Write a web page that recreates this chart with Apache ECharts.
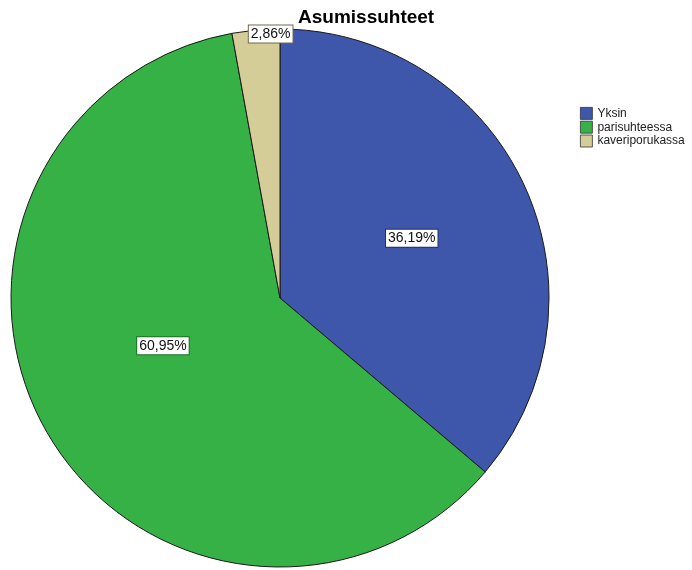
<!DOCTYPE html>
<html>
<head>
<meta charset="utf-8">
<script src="https://cdn.jsdelivr.net/npm/echarts@6/dist/echarts.min.js"></script>
<style>html,body{margin:0;padding:0;background:#fff}#c{width:692px;height:570px}</style>
</head>
<body>
<div id="c"></div>
<script>
var categories = ['Yksin', 'parisuhteessa', 'kaveriporukassa'];
var values = [36.19, 60.95, 2.86];
var labels = ['36,19%', '60,95%', '2,86%'];
var colors = ['#3f57ab', '#35b145', '#d4cd98'];
var labelBorders = ['#1f2f6e', '#1d6e28', '#6e6a4a'];
var labelOffsets = [[7, -2], [2, -21], [3, -127]];

var chart = echarts.init(document.getElementById('c'));
var data = categories.map(function (n, i) {
  return {
    name: n,
    value: values[i],
    itemStyle: { color: colors[i] },
    label: {
      formatter: labels[i],
      borderColor: labelBorders[i],
      offset: labelOffsets[i]
    }
  };
});
chart.setOption({
  animation: false,
  title: {
    text: 'Asumissuhteet',
    left: 293,
    top: 3,
    textStyle: { fontFamily: 'Arial, "Liberation Sans"', fontSize: 19, fontWeight: 'bold', color: '#000' }
  },
  legend: {
    orient: 'vertical',
    left: 575,
    top: 102,
    itemWidth: 12,
    itemHeight: 12,
    itemGap: 1,
    icon: 'rect',
    data: categories,
    itemStyle: { borderColor: '#333', borderWidth: 0.8 },
    textStyle: { fontFamily: 'Arial, "Liberation Sans"', fontSize: 12, color: '#222' }
  },
  series: [{
    type: 'pie',
    center: [280, 298],
    radius: 269,
    startAngle: 90,
    clockwise: true,
    silent: true,
    itemStyle: { borderColor: '#1a1a1a', borderWidth: 1 },
    label: {
      show: true,
      position: 'inside',
      fontFamily: 'Arial, "Liberation Sans"',
      fontSize: 14,
      color: '#111',
      backgroundColor: '#fff',
      borderWidth: 1,
      padding: [2, 2, 1, 2]
    },
    labelLine: { show: false },
    data: data
  }]
});
</script>
</body>
</html>
